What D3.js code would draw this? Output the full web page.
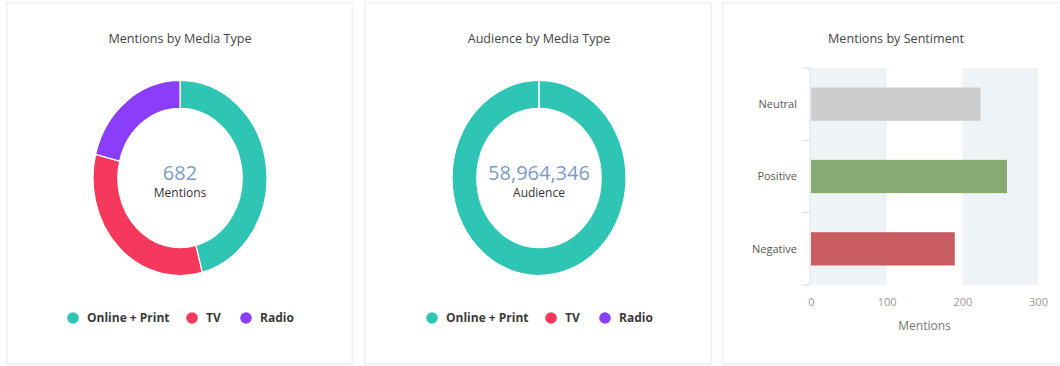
<!DOCTYPE html>
<html>
<head>
<meta charset="utf-8">
<script src="https://cdn.jsdelivr.net/npm/d3@7"></script>
<style>
  html, body { margin: 0; padding: 0; background: #fff; }
  svg { display: block; font-family: "Open Sans", sans-serif; }
</style>
</head>
<body>
<svg id="chart" width="1060" height="366"></svg>
<script>
// Media types and their colours
const mediaTypes = ["Online + Print", "TV", "Radio"];
const mediaColors = ["#2ec5b5", "#f5385c", "#8a3dfb"];

// Mention counts per media type
const mentionsByMedia = [313, 225, 144];
const mentionsTotal = 682;

// Audience per media type
const audienceByMedia = [58964346, 0, 0];
const audienceTotal = 58964346;

// Sentiment breakdown
const sentiments = ["Neutral", "Positive", "Negative"];
const sentimentValues = [224, 259, 190];
const sentimentColors = ["#cccccc", "#86aa72", "#c95c61"];
const sentimentTicks = [0, 100, 200, 300];

const svg = d3.select("#chart");

// Card backgrounds
const cards = [
  { x: 7, w: 345 },
  { x: 365, w: 346 },
  { x: 723, w: 345 }
];
const defs = svg.append("defs");
const f = defs.append("filter").attr("id", "cardShadow")
  .attr("x", "-5%").attr("y", "-5%").attr("width", "110%").attr("height", "110%");
f.append("feDropShadow").attr("dx", 0).attr("dy", 0).attr("stdDeviation", 1.2)
  .attr("flood-color", "#000").attr("flood-opacity", 0.08);

svg.selectAll("rect.card").data(cards).join("rect")
  .attr("class", "card")
  .attr("x", d => d.x).attr("y", 3)
  .attr("width", d => d.w).attr("height", 361)
  .attr("fill", "#fff")
  .attr("stroke", "#ececec")
  .attr("filter", "url(#cardShadow)");

// Donut chart panel
function donutPanel(cx, title, values, total, caption) {
  const g = svg.append("g");
  g.append("text")
    .attr("x", cx).attr("y", 43)
    .attr("text-anchor", "middle")
    .attr("font-size", 12.6).attr("fill", "#444")
    .text(title);

  const ry = 97.5, rx = 87;
  const pie = d3.pie().sort(null).value(d => d);
  const arc = d3.arc().innerRadius(ry * 0.715).outerRadius(ry);
  const ring = g.append("g")
    .attr("transform", `translate(${cx},178) scale(${rx / ry},1)`);
  ring.selectAll("path").data(pie(values)).join("path")
    .attr("d", arc)
    .attr("fill", (d, i) => mediaColors[i])
    .attr("stroke", "#fff")
    .attr("stroke-width", 1.2)
    .attr("vector-effect", "non-scaling-stroke");

  g.append("text")
    .attr("x", cx).attr("y", 180)
    .attr("text-anchor", "middle")
    .attr("font-size", 20).attr("fill", "#7b9bcb")
    .text(d3.format(",")(total));
  g.append("text")
    .attr("x", cx).attr("y", 197)
    .attr("text-anchor", "middle")
    .attr("font-size", 12).attr("fill", "#333")
    .text(caption);

  // Legend
  const legendX = [cx - 107, cx + 12, cx + 66];
  const lg = g.selectAll("g.legend").data(mediaTypes).join("g")
    .attr("class", "legend")
    .attr("transform", (d, i) => `translate(${legendX[i]},318)`);
  lg.append("circle").attr("r", 5.8).attr("fill", (d, i) => mediaColors[i]);
  lg.append("text")
    .attr("x", 14).attr("dy", "0.35em")
    .attr("font-size", 12).attr("font-weight", 700).attr("fill", "#3a3a3a")
    .text(d => d);
}

donutPanel(180, "Mentions by Media Type", mentionsByMedia, mentionsTotal, "Mentions");
donutPanel(539, "Audience by Media Type", audienceByMedia, audienceTotal, "Audience");

// Sentiment bar chart
{
  const g = svg.append("g");
  g.append("text")
    .attr("x", 896).attr("y", 43)
    .attr("text-anchor", "middle")
    .attr("font-size", 12.6).attr("fill", "#444")
    .text("Mentions by Sentiment");

  const x = d3.scaleLinear().domain([0, 300]).range([811, 1038]);
  const y = d3.scaleBand().domain(sentiments).range([68, 285]).paddingInner(0.54).paddingOuter(0.27);

  // Alternating background bands
  const bandPairs = d3.pairs(sentimentTicks).filter((d, i) => i % 2 === 0);
  g.selectAll("rect.band").data(bandPairs).join("rect")
    .attr("class", "band")
    .attr("x", d => x(d[0])).attr("width", d => x(d[1]) - x(d[0]))
    .attr("y", 68).attr("height", 285 - 68)
    .attr("fill", "#eef3f8");

  g.selectAll("rect.bar").data(sentimentValues).join("rect")
    .attr("class", "bar")
    .attr("x", x(0))
    .attr("y", (d, i) => y(sentiments[i]))
    .attr("width", d => x(d) - x(0))
    .attr("height", y.bandwidth())
    .attr("fill", (d, i) => sentimentColors[i]);

  // Y axis with ticks between categories
  const yAxis = g.append("g").attr("transform", `translate(${x(0) - 1},0)`);
  const step = (285 - 68) / sentiments.length;
  yAxis.append("line").attr("y1", 68).attr("y2", 285)
    .attr("stroke", "#d8dde3");
  yAxis.selectAll("line.tick").data(d3.range(sentiments.length + 1)).join("line")
    .attr("class", "tick")
    .attr("x1", -8).attr("x2", 0)
    .attr("y1", i => 68 + i * step).attr("y2", i => 68 + i * step)
    .attr("stroke", "#d8dde3");
  yAxis.selectAll("text").data(sentiments).join("text")
    .attr("x", -13).attr("y", d => y(d) + y.bandwidth() / 2)
    .attr("dy", "0.35em")
    .attr("text-anchor", "end")
    .attr("font-size", 11).attr("fill", "#555")
    .text(d => d);

  // X axis labels
  const xAxis = g.append("g").attr("transform", "translate(0,285)")
    .call(d3.axisBottom(x).tickValues(sentimentTicks).tickSize(0).tickPadding(13));
  xAxis.select(".domain").remove();
  xAxis.selectAll("text")
    .attr("font-family", "Open Sans, sans-serif")
    .attr("font-size", 11).attr("fill", "#999");

  g.append("text")
    .attr("x", x(150)).attr("y", 330)
    .attr("text-anchor", "middle")
    .attr("font-size", 12).attr("fill", "#777")
    .text("Mentions");
}
</script>
</body>
</html>
